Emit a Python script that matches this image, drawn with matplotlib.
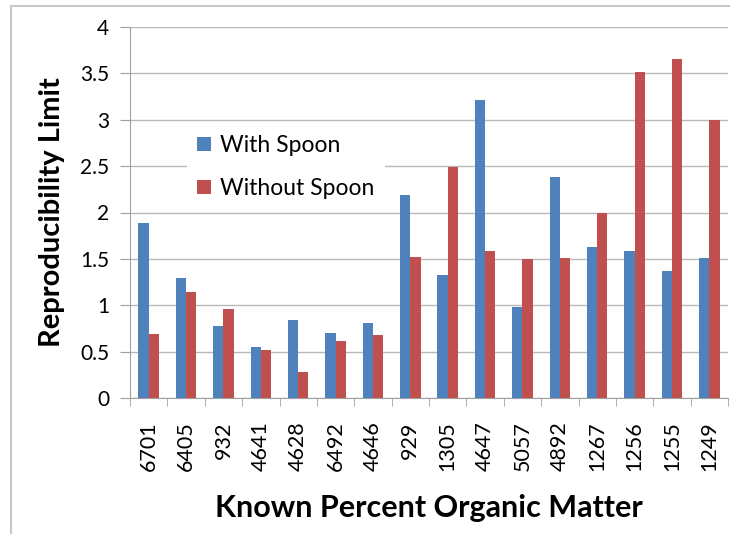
import numpy as np
import matplotlib
matplotlib.use("Agg")
import matplotlib.pyplot as plt
from matplotlib.patches import Rectangle

# data
samples = ["6701", "6405", "932", "4641", "4628", "6492", "4646", "929",
           "1305", "4647", "5057", "4892", "1267", "1256", "1255", "1249"]
with_spoon = [1.89, 1.29, 0.78, 0.55, 0.84, 0.70, 0.81, 2.19,
              1.33, 3.21, 0.98, 2.38, 1.63, 1.59, 1.37, 1.51]
without_spoon = [0.69, 1.14, 0.96, 0.52, 0.28, 0.61, 0.68, 1.52,
                 2.49, 1.58, 1.50, 1.51, 2.00, 3.52, 3.65, 3.00]

plt.rcParams['font.family'] = ['Lato', 'DejaVu Sans']

W, H = 730, 534
fig = plt.figure(figsize=(W / 100, H / 100), dpi=100)

# outer chart border (gray frame like the spreadsheet chart area)
fig.patches.append(Rectangle((11 / W, -0.02), 1.0, 1 - 6 / H + 0.02,
                             transform=fig.transFigure, fill=False,
                             edgecolor="#c8c8c8", linewidth=1.5))

ax = fig.add_axes([130 / W, 1 - 398 / H, 598 / W, 371 / H])

x = np.arange(len(samples))
bw = 0.275
ax.bar(x - bw / 2, with_spoon, bw, color="#4F81BD", label="With Spoon", zorder=3)
ax.bar(x + bw / 2, without_spoon, bw, color="#C0504D", label="Without Spoon", zorder=3)

ax.set_xlim(-0.5, len(samples) - 0.5)
ax.set_ylim(0, 4)
ax.set_yticks(np.arange(0, 4.01, 0.5))
ax.set_yticklabels(["0", "0.5", "1", "1.5", "2", "2.5", "3", "3.5", "4"], fontsize=15)
ax.yaxis.grid(True, color="#b8b8b8", linewidth=1.0, zorder=0)
ax.set_axisbelow(True)

ax.set_xticks(x)
ax.set_xticklabels(samples, rotation=90, fontsize=15.5)
ax.tick_params(axis="x", length=0, pad=17)
ax.set_xticks(np.arange(-0.5, len(samples)), minor=True)
ax.tick_params(axis="x", which="minor", length=6, color="#a0a0a0")
ax.tick_params(axis="y", length=7, color="#a0a0a0", pad=8)

for s in ["top", "right"]:
    ax.spines[s].set_visible(False)
for s in ["left", "bottom"]:
    ax.spines[s].set_color("#a0a0a0")

ax.set_ylabel("Reproducibility Limit", fontsize=21, fontweight="bold", labelpad=11)
ax.set_xlabel("Known Percent Organic Matter", fontsize=22, fontweight="bold", labelpad=16)

leg = ax.legend(loc="upper left", bbox_to_anchor=(0.095, 0.736), borderaxespad=0,
                fontsize=16.5, frameon=True, fancybox=False, handlelength=0.6,
                handleheight=0.6, handletextpad=0.4, labelspacing=0.95,
                borderpad=0.45)
leg.get_frame().set_facecolor("white")
leg.get_frame().set_edgecolor("none")
leg.get_frame().set_alpha(1)

fig.savefig("out.png", dpi=100)
